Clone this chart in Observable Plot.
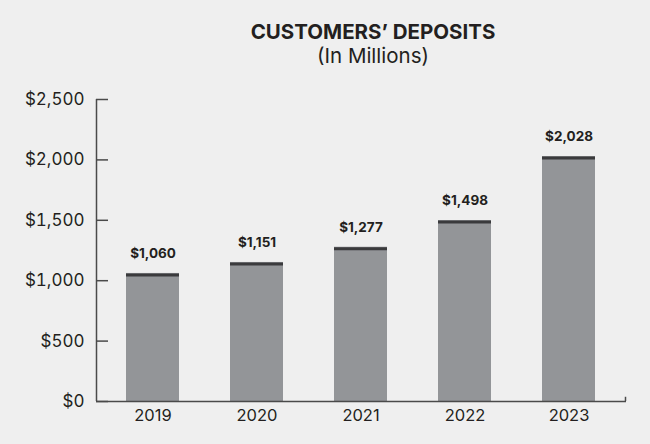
<!DOCTYPE html>
<html>
<head>
<meta charset="utf-8">
<script src="https://cdn.jsdelivr.net/npm/d3@7"></script>
<script src="https://cdn.jsdelivr.net/npm/@observablehq/plot@0.6"></script>
<style>
  html, body { margin: 0; padding: 0; background: #efefef; }
  #wrap { position: relative; width: 650px; height: 444px; background: #efefef; font-family: Inter, "Liberation Sans", sans-serif; color: #231f20; }
  #title { position: absolute; left: 0; width: 746px; top: 20px; text-align: center; font-weight: 700; font-size: 20.5px; line-height: 24px; }
  #subtitle { position: absolute; left: 0; width: 746px; top: 44px; text-align: center; font-size: 20.5px; line-height: 24px; }
  #chart { position: absolute; left: 0; top: 0; }
</style>
</head>
<body>
<div id="wrap">
  <div id="chart"></div>
  <div id="title">CUSTOMERS’ DEPOSITS</div>
  <div id="subtitle">(In Millions)</div>
</div>
<script>
const years = ["2019", "2020", "2021", "2022", "2023"];
const deposits = [1060, 1151, 1277, 1498, 2028];
const yTicks = [0, 500, 1000, 1500, 2000, 2500];
const valueLabels = ["$1,060", "$1,151", "$1,277", "$1,498", "$2,028"];

const data = years.map((year, i) => ({year, value: deposits[i], label: valueLabels[i]}));
const fmt = d => "$" + d3.format(",")(d);
const axisColor = "#4a4a4a";

const chart = Plot.plot({
  width: 650,
  height: 444,
  marginTop: 99,
  marginBottom: 43,
  marginLeft: 96,
  marginRight: 24,
  style: {background: "transparent", fontFamily: "Inter, 'Liberation Sans', sans-serif", color: "#231f20"},
  x: {domain: years, paddingInner: 0.49, paddingOuter: 0.29, label: null},
  y: {domain: [0, 2500], label: null},
  marks: [
    Plot.barY(data, {x: "year", y: "value", fill: "#939598"}),
    Plot.tickY(data, {x: "year", y: "value", stroke: "#3a3a3c", strokeWidth: 3, dy: 1.5}),
    Plot.text(data, {x: "year", y: "value", text: "label", dy: -20, fontWeight: 700, fontSize: 13.5, fill: "#231f20"}),
    Plot.ruleY([0], {stroke: axisColor, strokeWidth: 1.5}),
    Plot.ruleX([years[0]], {y1: 0, y2: 2500, dx: -56.5, stroke: axisColor, strokeWidth: 1.5}),
    Plot.ruleX([years[years.length - 1]], {y1: 0, y2: 35, dx: 56.5, stroke: axisColor, strokeWidth: 1.5}),
    Plot.axisY({ticks: yTicks, tickFormat: fmt, tickSize: -12, tickPadding: 24, stroke: axisColor, strokeWidth: 1.5, fontSize: 17, fill: "#231f20", label: null}),
    Plot.axisX({tickSize: 0, tickPadding: 8, fontSize: 16.5, fill: "#231f20", label: null})
  ]
});
document.getElementById("chart").appendChild(chart);
</script>
</body>
</html>
